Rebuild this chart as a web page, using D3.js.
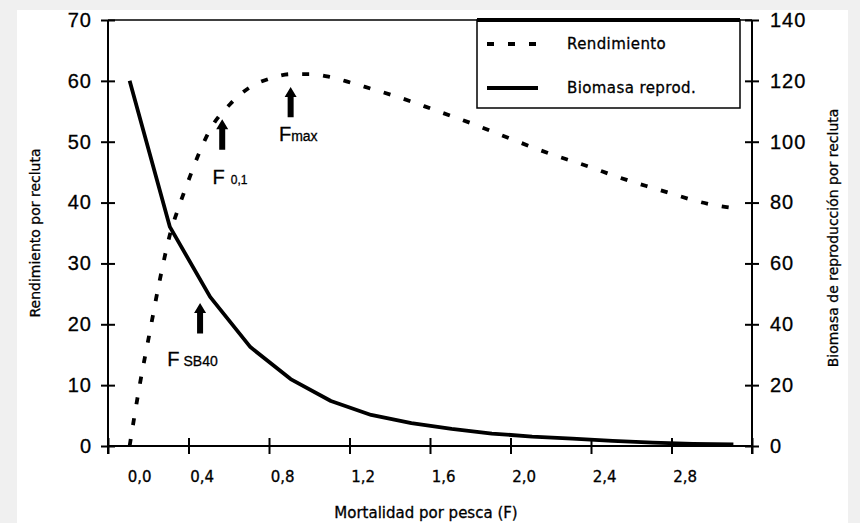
<!DOCTYPE html>
<html>
<head>
<meta charset="utf-8">
<script src="https://cdn.jsdelivr.net/npm/d3@7"></script>
<style>
  body { margin: 0; background: #f0f0f0; }
  svg { display: block; }
  text { stroke: #000; stroke-width: 0.3px; }
</style>
</head>
<body>
<svg id="chart" width="860" height="523"></svg>
<script>
// fishing mortality (F) and yield per recruit
const yieldF = [0, 0.05, 0.1, 0.15, 0.2, 0.25, 0.3, 0.35, 0.4, 0.5, 0.6, 0.7, 0.8, 0.9, 1.0,
    1.1, 1.2, 1.3, 1.4, 1.5, 1.6, 1.7, 1.8, 1.9, 2.0, 2.1, 2.2, 2.3, 2.4, 2.5, 2.6, 2.7, 2.8, 2.9, 3.0];
const yieldValues = [0, 10, 18.7, 27.3, 34.7, 39.8, 44.3, 48.5, 52, 56.2, 59, 60.4, 61.1, 61.1, 60.6,
    59.7, 58.7, 57.7, 56.6, 55.4, 54.2, 53, 51.7, 50.4, 49.1, 47.9, 46.8, 45.7, 44.5, 43.4, 42.4, 41.4, 40.4, 39.6, 39.1];

// spawning biomass per recruit (right axis)
const biomassF = [0, 0.2, 0.4, 0.6, 0.8, 1.0, 1.2, 1.4, 1.6, 1.8, 2.0, 2.2, 2.4, 2.6, 2.8, 3.0];
const biomassValues = [120, 72, 49, 32.5, 22, 14.8, 10.2, 7.5, 5.6, 4.1, 3.1, 2.4, 1.7, 1.1, 0.7, 0.5];

const leftTicks = [0, 10, 20, 30, 40, 50, 60, 70];
const rightTicks = [0, 20, 40, 60, 80, 100, 120, 140];
const xTickLabels = [0, 0.4, 0.8, 1.2, 1.6, 2.0, 2.4, 2.8];

// reference points, in data units (F, left axis)
const annotations = [
    { name: 'F', sub: 'max', f: 0.8, top: 59, labelF: 0.742, labelY: 50.1, subSize: 14, gap: 0 },
    { name: 'F', sub: '0,1', f: 0.46, top: 53.7, labelF: 0.412, labelY: 43, subSize: 12, gap: 6 },
    { name: 'F', sub: 'SB40', f: 0.35, top: 23.5, labelF: 0.187, labelY: 13.1, subSize: 14, gap: 4 }
];
const arrowLength = 5;

const legendItems = [
    { label: 'Rendimiento', dash: '7,14' },
    { label: 'Biomasa reprod.', dash: null }
];

const svg = d3.select('#chart');
const plot = { left: 108, right: 752, top: 20, bottom: 446 };

svg.append('rect')
    .attr('x', 17).attr('y', 10)
    .attr('width', 831).attr('height', 513)
    .attr('fill', '#fff');

const fMin = -0.1075;
const x = d3.scaleLinear().domain([fMin, fMin + 3.2]).range([plot.left, plot.right]);
const yL = d3.scaleLinear().domain([0, 70]).range([plot.bottom, plot.top]);
const yR = d3.scaleLinear().domain([0, 140]).range([plot.bottom, plot.top]);

const numFont = 'Liberation Sans, Arial, sans-serif';
const textFont = 'DejaVu Sans, Verdana, sans-serif';

// top border
svg.append('line')
    .attr('x1', plot.left).attr('x2', plot.right)
    .attr('y1', plot.top).attr('y2', plot.top)
    .attr('stroke', '#000').attr('stroke-width', 1.5);

// left axis
const gL = svg.append('g')
    .attr('transform', `translate(${plot.left},0)`)
    .call(d3.axisLeft(yL).tickValues(leftTicks).tickSize(7).tickPadding(9));
gL.selectAll('.tick line').attr('x1', 7).attr('stroke-width', 2);
gL.select('.domain').attr('d', `M0,${plot.top}V${plot.bottom + 8}`).attr('stroke-width', 2);
gL.selectAll('.tick text')
    .attr('font-family', numFont).attr('font-size', 20).attr('letter-spacing', 1).attr('fill', '#000');

// right axis
const gR = svg.append('g')
    .attr('transform', `translate(${plot.right},0)`)
    .call(d3.axisRight(yR).tickValues(rightTicks).tickSize(7).tickPadding(11));
gR.selectAll('.tick line').attr('x1', -7).attr('stroke-width', 2);
gR.select('.domain').attr('d', `M0,${plot.top}V${plot.bottom + 8}`).attr('stroke-width', 2);
gR.selectAll('.tick text')
    .attr('font-family', numFont).attr('font-size', 20).attr('letter-spacing', 1).attr('fill', '#000');

// bottom axis: tick marks every 0.4 from the axis start, labels set apart
const tickMarkF = d3.range(9).map(k => fMin + 0.4 * k);
const gX = svg.append('g')
    .attr('transform', `translate(0,${plot.bottom})`)
    .call(d3.axisBottom(x).tickValues(tickMarkF).tickSize(8).tickFormat(''));
gX.selectAll('.tick line').attr('y1', -8).attr('stroke-width', 2);
gX.select('.domain').attr('d', `M${plot.left},0H${plot.right}`).attr('stroke-width', 2);

const fmtComma = v => d3.format('.1f')(v).replace('.', ',');
svg.append('g').selectAll('text')
    .data(xTickLabels)
    .join('text')
    .attr('x', d => x(d) + (d === 0 ? 10 : -8))
    .attr('y', 482)
    .attr('text-anchor', 'middle')
    .attr('font-family', textFont).attr('font-size', 15)
    .text(fmtComma);

// axis titles
svg.append('text')
    .attr('transform', 'translate(40,233) rotate(-90)')
    .attr('text-anchor', 'middle')
    .attr('font-family', textFont).attr('font-size', 14)
    .text('Rendimiento por recluta');
svg.append('text')
    .attr('transform', 'translate(838,238) rotate(-90)')
    .attr('text-anchor', 'middle')
    .attr('font-family', textFont).attr('font-size', 14)
    .text('Biomasa de reproducción por recluta');
svg.append('text')
    .attr('x', 426).attr('y', 518)
    .attr('text-anchor', 'middle')
    .attr('font-family', textFont).attr('font-size', 15)
    .text('Mortalidad por pesca (F)');

// curves
const yieldLine = d3.line()
    .x((d, i) => x(yieldF[i]))
    .y(d => yL(d))
    .curve(d3.curveMonotoneX);
svg.append('path')
    .attr('d', yieldLine(yieldValues))
    .attr('fill', 'none').attr('stroke', '#000')
    .attr('stroke-width', 3.8).attr('stroke-dasharray', '7,14');

const biomassLine = d3.line()
    .x((d, i) => x(biomassF[i]))
    .y(d => yR(d));
svg.append('path')
    .attr('d', biomassLine(biomassValues))
    .attr('fill', 'none').attr('stroke', '#000')
    .attr('stroke-width', 3.8).attr('stroke-linejoin', 'round');

// arrows and labels
const ann = svg.append('g');
annotations.forEach(a => {
    const ax = x(a.f), yTop = yL(a.top), yBot = yL(a.top - arrowLength);
    const hw = 6, hh = 10, sw = 3;
    ann.append('path')
        .attr('d', `M${ax},${yTop} L${ax + hw},${yTop + hh} L${ax + sw},${yTop + hh} L${ax + sw},${yBot} L${ax - sw},${yBot} L${ax - sw},${yTop + hh} L${ax - hw},${yTop + hh} Z`)
        .attr('fill', '#000');
    const t = ann.append('text')
        .attr('x', x(a.labelF)).attr('y', yL(a.labelY))
        .attr('font-family', numFont);
    t.append('tspan').attr('font-size', 20).text(a.name);
    t.append('tspan').attr('font-size', a.subSize).attr('dx', a.gap).text(a.sub);
});

// legend
const legend = svg.append('g');
legend.append('rect')
    .attr('x', 477).attr('y', plot.top)
    .attr('width', 263).attr('height', 88)
    .attr('fill', '#fff').attr('stroke', '#000').attr('stroke-width', 1.5);
legend.append('line')
    .attr('x1', 477).attr('x2', 740)
    .attr('y1', plot.top).attr('y2', plot.top)
    .attr('stroke', '#000').attr('stroke-width', 4);
legendItems.forEach((item, i) => {
    const ly = 44 + i * 44;
    legend.append('line')
        .attr('x1', 487).attr('x2', item.dash ? 536 : 538)
        .attr('y1', ly).attr('y2', ly)
        .attr('stroke', '#000').attr('stroke-width', 3.8)
        .attr('stroke-dasharray', item.dash);
    legend.append('text')
        .attr('x', 567).attr('y', ly)
        .attr('dy', '0.35em')
        .attr('font-family', textFont).attr('font-size', 15)
        .attr('letter-spacing', 0.4)
        .text(item.label);
});
</script>
</body>
</html>
